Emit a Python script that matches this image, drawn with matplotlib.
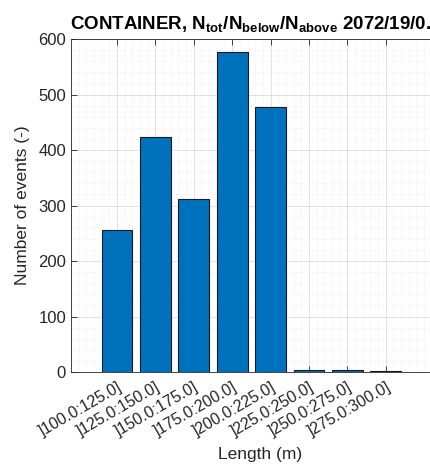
import numpy as np
from matplotlib import pyplot as plt
from matplotlib.ticker import MultipleLocator

# Length classes and number of events in each
lengthBins = [']100.0:125.0]', ']125.0:150.0]', ']150.0:175.0]', ']175.0:200.0]',
              ']200.0:225.0]', ']225.0:250.0]', ']250.0:275.0]', ']275.0:300.0]']
eventCounts = [255, 423, 312, 577, 477, 4, 4, 2]

plt.rcParams['font.family'] = ['Liberation Sans', 'DejaVu Sans']
plt.rcParams['mathtext.fontset'] = 'custom'
plt.rcParams['mathtext.rm'] = 'Liberation Sans'
plt.rcParams['mathtext.bf'] = 'Liberation Sans:bold'
textColor = '#262626'

fig = plt.figure(figsize=(4.30, 4.73), dpi=100)
ax = fig.add_axes([0.165, 0.2135, 0.881, 0.704])

xPos = np.arange(1, len(eventCounts) + 1)
ax.bar(xPos, eventCounts, width=0.8, color='#0072BD', edgecolor='#1a1a1a', linewidth=0.8, zorder=3)

ax.set_xlim(-0.2, 9.67)
ax.set_ylim(0, 600)
ax.set_xticks(xPos)
ax.set_xticklabels(lengthBins, rotation=30, ha='right', rotation_mode='anchor', fontsize=11.5, color=textColor)
ax.set_yticks(np.arange(0, 601, 100))
ax.tick_params(axis='y', labelsize=12, labelcolor=textColor)
ax.tick_params(axis='x', pad=5)
ax.xaxis.set_minor_locator(MultipleLocator(0.2))
ax.yaxis.set_minor_locator(MultipleLocator(20))

# MATLAB-style ticks: inward, on both sides
ax.tick_params(which='both', direction='in', top=True, right=True, color=textColor)
ax.tick_params(which='major', length=4, width=0.6)
ax.tick_params(which='minor', length=0)

ax.grid(True, which='major', color='#dcdcdc', linewidth=0.6, zorder=0)
ax.grid(True, which='minor', color='#e6e6e6', linewidth=0.5, linestyle=':', zorder=0)
ax.set_axisbelow(True)
for spine in ax.spines.values():
    spine.set_color(textColor)
    spine.set_linewidth(0.6)

ax.set_xlabel('Length (m)', fontsize=12.5, color=textColor, labelpad=6)
ax.set_ylabel('Number of events (-)', fontsize=12.5, color=textColor, labelpad=6)

fig.text(0.163, 0.937, r'CONTAINER, N$_{\mathbf{tot}}$/N$_{\mathbf{below}}$/N$_{\mathbf{above}}$ 2072/19/0.',
         fontsize=13.5, fontweight='bold', ha='left', va='baseline', color='black')

plt.savefig('out.png', dpi=100)
